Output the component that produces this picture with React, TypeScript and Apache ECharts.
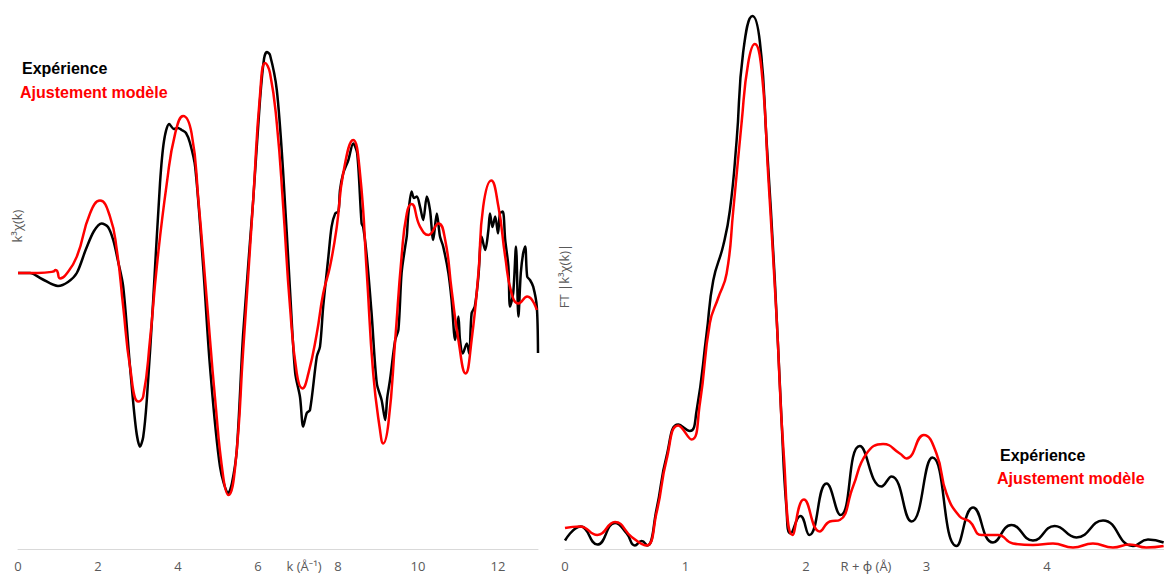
import React, { useEffect, useRef } from "react";
import * as echarts from "echarts";

// Left panel: k^3 chi(k) vs k (A^-1)
const kExp: number[][] = [
  [0, 0], [0.3, 0], [0.6, -0.3], [1.0, -0.65], [1.25, -0.45], [1.47, 0], [1.7, 1.2], [1.9, 2.1], [2.09, 2.48], [2.25, 2.3],
  [2.38, 1.65], [2.5, 0.6], [2.63, -0.68], [2.8, -4.68], [2.95, -7.8], [3.05, -8.68], [3.13, -8.2], [3.22, -6.35], [3.38, -1.35],
  [3.55, 4.48], [3.65, 6.6], [3.78, 7.45], [3.9, 7.2], [4.0, 7.25], [4.09, 7.15], [4.2, 7.0], [4.3, 6.5], [4.43, 5.3], [4.63, 0.3],
  [4.8, -4.68], [5.05, -9.68], [5.26, -11.0], [5.35, -10.5], [5.47, -8.85], [5.63, -3.0], [5.88, 3.65], [6.05, 8.65], [6.15, 10.7],
  [6.22, 11.05], [6.3, 10.9], [6.47, 9.15], [6.63, 5.0], [6.8, -0.85], [6.93, -5.0], [7.05, -6.2], [7.13, -7.68], [7.22, -7.0],
  [7.3, -6.85], [7.47, -4.18], [7.55, -3.68], [7.63, -1.68], [7.76, 0.82], [7.84, 2.32], [7.93, 2.98], [8.01, 3.07], [8.05, 4.15],
  [8.13, 4.98], [8.26, 5.65], [8.38, 6.48], [8.48, 5.98], [8.59, 2.48], [8.63, 2.3], [8.72, 0.82], [8.84, -2.02], [8.97, -5.52],
  [9.09, -6.35], [9.18, -7.35], [9.23, -6.25], [9.3, -5.35], [9.43, -3.35], [9.51, -2.85], [9.59, 0], [9.68, 1.32], [9.72, 1.85],
  [9.76, 2.98], [9.84, 4.07], [9.9, 3.75], [9.97, 3.82], [10.05, 3.32], [10.13, 2.65], [10.22, 3.82], [10.3, 3.15], [10.38, 1.65],
  [10.47, 2.98], [10.55, 1.82], [10.63, 1.32], [10.76, 0], [10.84, -1.35], [10.93, -3.35], [11.01, -2.18], [11.05, -3.35],
  [11.12, -4.02], [11.22, -3.52], [11.28, -4.02], [11.34, -2.02], [11.42, -1.68], [11.51, -0.18], [11.59, 1.82], [11.68, 1.15],
  [11.76, 2.15], [11.8, 2.98], [11.86, 2.3], [11.93, 2.82], [12.0, 1.98], [12.05, 2.98], [12.12, 3.07], [12.18, 1.65], [12.26, 0.32],
  [12.3, -1.68], [12.38, -1.0], [12.45, 1.32], [12.51, -2.18], [12.57, 0], [12.63, 1.0], [12.68, 1.32], [12.73, -0.18], [12.8, -0.35],
  [12.88, -0.68], [12.97, -1.68], [13.0, -4.0],
];

const kFit: number[][] = [
  [0, 0], [0.5, 0], [0.88, 0.07], [0.94, 0.15], [0.98, 0.1], [1.05, -0.27], [1.19, -0.1], [1.47, 0.82], [1.8, 2.98], [2.05, 3.62],
  [2.3, 2.82], [2.47, 1.15], [2.63, -1.68], [2.8, -4.68], [3.01, -6.43], [3.13, -6.18], [3.3, -3.35], [3.47, 0.32], [3.72, 4.48],
  [3.93, 6.98], [4.13, 7.85], [4.34, 6.98], [4.51, 3.65], [4.72, -1.35], [4.93, -6.35], [5.13, -10.18], [5.26, -11.1], [5.43, -9.68],
  [5.63, -3.85], [5.88, 3.65], [6.05, 8.9], [6.18, 10.5], [6.3, 10.0], [6.47, 7.48], [6.63, 3.32], [6.8, -1.68], [6.97, -5.02],
  [7.11, -5.77], [7.26, -5.02], [7.47, -3.02], [7.63, -1.02], [7.8, 0.32], [7.97, 2.32], [8.13, 4.98], [8.38, 6.65], [8.55, 4.98],
  [8.72, 0], [8.88, -5.02], [9.05, -7.85], [9.13, -8.52], [9.26, -7.52], [9.43, -3.35], [9.59, 0.82], [9.72, 2.98], [9.84, 3.45],
  [10.05, 2.32], [10.26, 1.9], [10.51, 2.48], [10.68, 1.65], [10.84, -0.85], [11.01, -3.35], [11.19, -5.02], [11.34, -3.35],
  [11.51, 0], [11.63, 3.32], [11.83, 4.62], [12.01, 3.32], [12.18, 0.82], [12.34, -1.02], [12.51, -1.52], [12.73, -1.18], [12.97, -1.85],
];

// Right panel: FT |k^3 chi(k)| vs R + phi (A)
const rExp: number[][] = [
  [0, 0.17], [0.13, 0.45], [0.268, 0.09], [0.415, 0.52], [0.512, 0.31], [0.58, 0.07], [0.636, 0.16], [0.682, 0.07], [0.76, 0.8],
  [0.843, 1.86], [0.94, 2.49], [1.036, 2.36], [1.092, 2.77], [1.175, 4.31], [1.23, 5.37], [1.313, 6.07], [1.368, 6.77], [1.424, 8.17],
  [1.478, 9.93], [1.556, 10.66], [1.617, 10.14], [1.672, 8.18], [1.741, 5.37], [1.797, 2.56], [1.838, 0.8], [1.871, 0.31],
  [1.953, 0.66], [2.027, 0.28], [2.17, 1.31], [2.286, 0.68], [2.446, 2.06], [2.626, 1.25], [2.709, 1.45], [2.875, 0.55], [3.049, 1.83],
  [3.248, 0.06], [3.386, 0.83], [3.551, 0.13], [3.704, 0.48], [3.883, 0.17], [4.063, 0.46], [4.243, 0.23], [4.464, 0.57], [4.712, 0.06],
  [4.837, 0.19], [4.967, 0.13],
];

const rFit: number[][] = [
  [0, 0.42], [0.124, 0.45], [0.268, 0.28], [0.415, 0.54], [0.553, 0.24], [0.672, 0.07], [0.76, 0.73], [0.843, 1.79], [0.94, 2.47],
  [1.05, 2.19], [1.119, 2.91], [1.202, 4.52], [1.271, 5.02], [1.341, 5.51], [1.396, 6.77], [1.465, 8.52], [1.52, 9.72], [1.575, 10.1],
  [1.631, 9.58], [1.686, 7.47], [1.755, 4.66], [1.816, 1.86], [1.888, 0.28], [1.982, 0.99], [2.114, 0.35], [2.197, 0.55], [2.28, 0.58],
  [2.39, 1.25], [2.502, 1.91], [2.639, 2.1], [2.778, 1.91], [2.833, 1.81], [2.977, 2.28], [3.082, 1.91], [3.165, 1.11], [3.275, 0.65],
  [3.358, 0.55], [3.455, 0.28], [3.593, 0.28], [3.717, 0.11], [3.883, 0.08], [4.049, 0.11], [4.215, 0.03], [4.38, 0.11], [4.546, 0.03],
  [4.685, 0.09], [4.823, 0.03], [4.967, 0.06],
];

const legendExp = "Expérience";
const legendFit = "Ajustement modèle";
const kAxisName = "k (Å⁻¹)";
const rAxisName = "R + ϕ (Å)";
const kYName = "k³χ(k)";
const rYName = "FT |k³χ(k)|";

const LABEL_FONT = "'Open Sans', 'Noto Sans', sans-serif";
const LEGEND_FONT = "'Liberation Sans', Arial, sans-serif";
const GRAY = "#595959";

export default function App() {
  const ref = useRef<HTMLDivElement>(null);
  useEffect(() => {
    if (!ref.current) return;
    const chart = echarts.init(ref.current, undefined, { renderer: "svg" });
    const xAxisCommon = {
      type: "value" as const,
      axisLine: { onZero: false, lineStyle: { color: "#d9d9d9", width: 1 } },
      axisTick: { show: false },
      splitLine: { show: false },
      axisLabel: { color: GRAY, fontSize: 13, fontFamily: LABEL_FONT, margin: 10, showMaxLabel: false },
    };
    const legendText = (x: number, y: number, text: string, color: string) => ({
      type: "text",
      left: x,
      top: y,
      style: { text, fill: color, font: `bold 16px ${LEGEND_FONT}` },
    });
    chart.setOption({
      animation: false,
      backgroundColor: "#ffffff",
      grid: [
        { left: 18, width: 520, top: 8, bottom: 26 },
        { left: 565, right: 0, top: 8, bottom: 26 },
      ],
      xAxis: [
        { ...xAxisCommon, gridIndex: 0, min: 0, max: 13, interval: 2 },
        { ...xAxisCommon, gridIndex: 1, min: 0, max: 4.97, interval: 1 },
      ],
      yAxis: [
        { type: "value", gridIndex: 0, min: -13.8, max: 13.25, show: false },
        { type: "value", gridIndex: 1, min: 0, max: 10.82, show: false },
      ],
      series: [
        { type: "line", name: legendExp, xAxisIndex: 0, yAxisIndex: 0, data: kExp, showSymbol: false, smooth: 0.3, lineStyle: { color: "#000000", width: 2.5 } },
        { type: "line", name: legendFit, xAxisIndex: 0, yAxisIndex: 0, data: kFit, showSymbol: false, smooth: 0.5, lineStyle: { color: "#ff0000", width: 2.5 } },
        { type: "line", name: legendExp, xAxisIndex: 1, yAxisIndex: 1, data: rExp, showSymbol: false, smooth: 0.5, lineStyle: { color: "#000000", width: 2.5 } },
        { type: "line", name: legendFit, xAxisIndex: 1, yAxisIndex: 1, data: rFit, showSymbol: false, smooth: 0.5, lineStyle: { color: "#ff0000", width: 2.5 } },
      ],
      graphic: [
        legendText(22, 60, legendExp, "#000000"),
        legendText(20, 84, legendFit, "#ff0000"),
        legendText(1000, 447, legendExp, "#000000"),
        legendText(997, 470, legendFit, "#ff0000"),
        {
          type: "text", x: 304, y: 566,
          style: { text: kAxisName, fill: GRAY, font: `13px ${LABEL_FONT}`, align: "center", verticalAlign: "middle" },
        },
        {
          type: "text", x: 866, y: 566,
          style: { text: rAxisName, fill: GRAY, font: `13px ${LABEL_FONT}`, align: "center", verticalAlign: "middle" },
        },
        {
          type: "text", x: 17, y: 226, rotation: Math.PI / 2,
          style: { text: kYName, fill: GRAY, font: `13px ${LABEL_FONT}`, align: "center", verticalAlign: "middle" },
        },
        {
          type: "text", x: 564, y: 276, rotation: Math.PI / 2,
          style: { text: rYName, fill: GRAY, font: `13px ${LABEL_FONT}`, align: "center", verticalAlign: "middle" },
        },
      ],
    });
    return () => chart.dispose();
  }, []);
  return <div ref={ref} style={{ position: "fixed", left: 0, top: 0, width: 1164, height: 575 }} />;
}
